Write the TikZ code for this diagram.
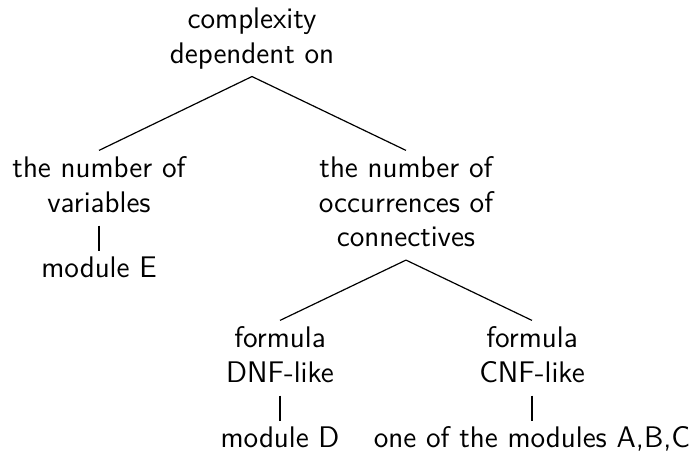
\documentclass[tikz,border=0pt]{standalone}
\usepackage{tikz}
\usetikzlibrary{positioning}

\begin{document}
\begin{tikzpicture}[
    x=0.5pt, y=-0.5pt, line width=0.6pt, node distance=12.5pt,
    topic/.style={anchor=north, align=center, inner xsep=0pt, inner ysep=1.2pt,
                  font=\sffamily\fontsize{14.9}{17.28}\selectfont}
]
\useasboundingbox (0,0) rectangle (692,452);

\node[topic] (Root) at (252,1.4) {\strut complexity\\\strut dependent on};
\node[topic] (Vars) at (99,150.4) {\strut the number of\\\strut variables};
\node[topic] (Conn) at (406,150.4) {\strut the number of\\\strut occurrences of\\\strut connectives};
\node[topic, below=of Vars] (ModE) {\strut module E};
\node[topic] (DNF) at (280,320.4) {\strut formula\\\strut DNF-like};
\node[topic] (CNF) at (532,320.4) {\strut formula\\\strut CNF-like};
\node[topic, below=of DNF] (ModD) {\strut module D};
\node[topic, below=of CNF] (ModABC) {\strut one of the modules A,B,C};

\draw (Root.south) -- (Vars.north);
\draw (Root.south) -- (Conn.north);
\draw (Vars.south) -- (ModE.north);
\draw (Conn.south) -- (DNF.north);
\draw (Conn.south) -- (CNF.north);
\draw (DNF.south) -- (ModD.north);
\draw (CNF.south) -- (ModABC.north);

\end{tikzpicture}
\end{document}
